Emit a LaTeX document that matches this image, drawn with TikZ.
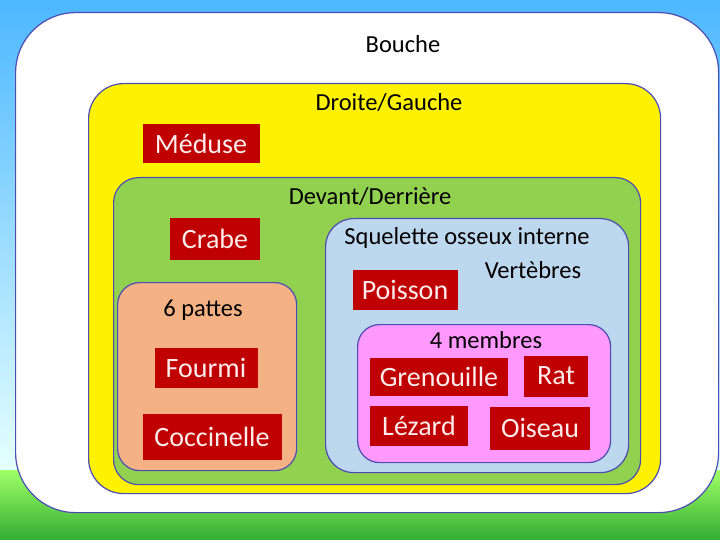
\documentclass[tikz,border=0pt]{standalone}
\usepackage{fontspec}
\setmainfont{Carlito}
\definecolor{gr}{HTML}{92D050}
\definecolor{or}{HTML}{F4B183}
\definecolor{bl}{HTML}{BDD7EE}
\definecolor{pk}{HTML}{FF99FF}
\definecolor{rd}{HTML}{C00000}
\begin{document}
\begin{tikzpicture}[x=1pt,y=-1pt,
  lbl/.style={font=\fontsize{24.5}{27}\selectfont,text=black},
  redbox/.style={fill=rd,text=red!8,font=\fontsize{28}{30}\selectfont,inner sep=0pt},
  zone/.style={draw=blue!40!gray,line width=1.2pt}]
\useasboundingbox (0,0) rectangle (720,540);
\shade[top color=cyan!60!blue!70,bottom color=cyan!10] (0,0) rectangle (720,470);
\shade[top color=green!50!lime!60,bottom color=green!60!black!80] (0,470) rectangle (720,540);
\node[zone,fill=white,rounded corners=60pt,minimum width=703pt,minimum height=500pt,anchor=north west] (w) at (15,12) {};
\node[zone,fill=yellow,rounded corners=35pt,minimum width=572pt,minimum height=410pt,anchor=north west] (y) at (88,83) {};
\node[zone,fill=gr,rounded corners=25pt,minimum width=527pt,minimum height=307pt,anchor=north west] (g) at (113,177) {};
\node[zone,fill=or,rounded corners=22pt,minimum width=179pt,minimum height=188pt,anchor=north west] (o) at (117,282) {};
\node[zone,fill=bl,rounded corners=28pt,minimum width=303pt,minimum height=254pt,anchor=north west] (b) at (325,218) {};
\node[zone,fill=pk,rounded corners=22pt,minimum width=253pt,minimum height=138pt,anchor=north west] (p) at (357,324) {};
\node[lbl] (t1) at (403,44) {Bouche};
\node[lbl] (t2) at (389,103) {Droite/Gauche};
\node[lbl] (t3) at (370,197) {Devant/Derrière};
\node[lbl] (t4) at (467,238) {Squelette osseux interne};
\node[lbl] (t5) at (533,270) {Vertèbres};
\node[lbl] (t6) at (203,310) {6 pattes};
\node[lbl] (t7) at (486,340) {4 membres};
\node[redbox,minimum width=117pt,minimum height=39pt] (m) at (201,144) {Méduse};
\node[redbox,minimum width=90pt,minimum height=41pt] (c) at (215,239) {Crabe};
\node[redbox,minimum width=105pt,minimum height=40pt] (po) at (405,290) {Poisson};
\node[redbox,minimum width=103pt,minimum height=40pt] (f) at (206,368) {Fourmi};
\node[redbox,minimum width=139pt,minimum height=46pt] (co) at (212,437) {Coccinelle};
\node[redbox,minimum width=138pt,minimum height=38pt] (gr) at (439,377) {Grenouille};
\node[redbox,minimum width=64pt,minimum height=41pt] (r) at (556,376) {Rat};
\node[redbox,minimum width=98pt,minimum height=40pt] (l) at (419,426) {Lézard};
\node[redbox,minimum width=100pt,minimum height=43pt] (oi) at (540,428) {Oiseau};
\end{tikzpicture}
\end{document}
